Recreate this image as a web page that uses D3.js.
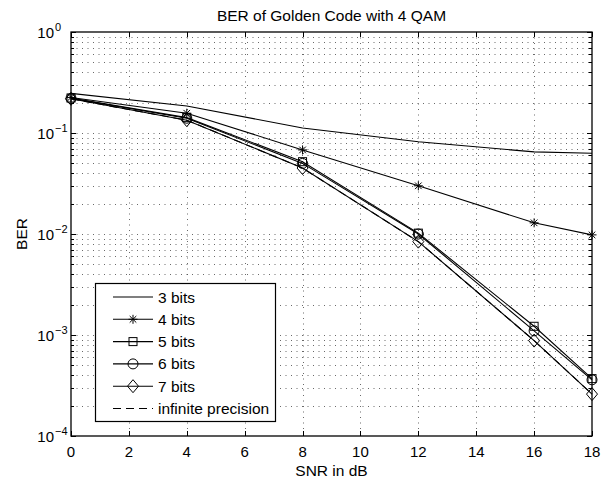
<!DOCTYPE html>
<html>
<head>
<meta charset="utf-8">
<script src="https://cdn.jsdelivr.net/npm/d3@7"></script>
<style>
body { margin: 0; background: #fff; }
text { font-family: "Liberation Sans", Arial, sans-serif; fill: #000; }
</style>
</head>
<body>
<script>
var svgWidth = 612;
var svgHeight = 479;
var plotLeft = 71, plotRight = 592, plotTop = 32, plotBottom = 436;

// data
var snr = [0, 4, 8, 12, 16, 18];
var bits3 = [0.247, 0.185, 0.112, 0.082, 0.065, 0.063];
var bits4 = [0.225, 0.157, 0.068, 0.030, 0.0129, 0.0098];
var bits5 = [0.222, 0.142, 0.052, 0.0102, 0.00122, 0.00037];
var bits6 = [0.220, 0.140, 0.050, 0.0100, 0.00110, 0.00036];
var bits7 = [0.218, 0.134, 0.045, 0.0084, 0.00088, 0.00026];
var infPrec = [0.218, 0.134, 0.045, 0.0084, 0.00088, 0.00026];
var xTicks = [0, 2, 4, 6, 8, 10, 12, 14, 16, 18];
var yTicks = [1e-4, 1e-3, 1e-2, 1e-1, 1];
var yTickExp = ["\u22124", "\u22123", "\u22122", "\u22121", "0"];
var seriesNames = ["3 bits", "4 bits", "5 bits", "6 bits", "7 bits", "infinite precision"];
var seriesData = [bits3, bits4, bits5, bits6, bits7, infPrec];
var markers = ["none", "star", "square", "circle", "diamond", "none"];

var x = d3.scaleLinear().domain([0, 18]).range([plotLeft, plotRight]);
var y = d3.scaleLog().domain([1e-4, 1]).range([plotBottom, plotTop]);

var svg = d3.select("body")
    .append("svg")
    .attr("width", svgWidth)
    .attr("height", svgHeight);

// minor log ticks
var minorY = [];
for (var d = -4; d < 0; d++) {
    for (var m = 1; m < 10; m++) {
        minorY.push(m * Math.pow(10, d));
    }
}
minorY.push(1);

var grid = svg.append("g")
    .attr("stroke", "#444")
    .attr("stroke-width", 0.8)
    .attr("stroke-dasharray", "1,4.5");

grid.selectAll("line.gy")
    .data(minorY.filter(function (v) { return v > 1.01e-4 && v < 0.99; }))
    .enter()
    .append("line")
    .attr("x1", plotLeft).attr("x2", plotRight)
    .attr("y1", function (v) { return Math.round(y(v)) + 0.5; })
    .attr("y2", function (v) { return Math.round(y(v)) + 0.5; });

grid.selectAll("line.gx")
    .data(xTicks.filter(function (v) { return v > 0 && v < 18; }))
    .enter()
    .append("line")
    .attr("y1", plotTop).attr("y2", plotBottom)
    .attr("x1", function (v) { return Math.round(x(v)) + 0.5; })
    .attr("x2", function (v) { return Math.round(x(v)) + 0.5; });

// ticks (inside, MATLAB style)
var ticks = svg.append("g").attr("stroke", "#000").attr("stroke-width", 1);
xTicks.forEach(function (v) {
    var px = Math.round(x(v)) + 0.5;
    ticks.append("line").attr("x1", px).attr("x2", px).attr("y1", plotBottom).attr("y2", plotBottom - 5);
    ticks.append("line").attr("x1", px).attr("x2", px).attr("y1", plotTop).attr("y2", plotTop + 5);
});
minorY.forEach(function (v) {
    var py = Math.round(y(v)) + 0.5;
    var len = (Math.abs(Math.log10(v) - Math.round(Math.log10(v))) < 1e-6) ? 5 : 3;
    ticks.append("line").attr("x1", plotLeft).attr("x2", plotLeft + len).attr("y1", py).attr("y2", py);
    ticks.append("line").attr("x1", plotRight).attr("x2", plotRight - len).attr("y1", py).attr("y2", py);
});

// series lines
var line = d3.line()
    .x(function (d, i) { return x(snr[i]); })
    .y(function (d) { return y(d); });

seriesData.forEach(function (vals, k) {
    svg.append("path")
        .datum(vals)
        .attr("d", line)
        .attr("fill", "none")
        .attr("stroke", "#000")
        .attr("stroke-width", 1.1)
        .attr("stroke-dasharray", k == 5 ? "8,5" : null);
});

var drawMarker = function (g, type, cx, cy) {
    if (type == "star") {
        var s = 4.5, t = 3.3;
        g.append("path")
            .attr("d", "M" + (cx - s) + "," + cy + "H" + (cx + s) + "M" + cx + "," + (cy - s) + "V" + (cy + s) +
                "M" + (cx - t) + "," + (cy - t) + "L" + (cx + t) + "," + (cy + t) +
                "M" + (cx - t) + "," + (cy + t) + "L" + (cx + t) + "," + (cy - t))
            .attr("stroke", "#000").attr("stroke-width", 1).attr("fill", "none");
    } else if (type == "square") {
        g.append("rect").attr("x", cx - 4).attr("y", cy - 4).attr("width", 8).attr("height", 8)
            .attr("stroke", "#000").attr("stroke-width", 1).attr("fill", "none");
    } else if (type == "circle") {
        g.append("circle").attr("cx", cx).attr("cy", cy).attr("r", 5)
            .attr("stroke", "#000").attr("stroke-width", 1).attr("fill", "none");
    } else if (type == "diamond") {
        g.append("path")
            .attr("d", "M" + cx + "," + (cy - 6.5) + "L" + (cx + 5.5) + "," + cy + "L" + cx + "," + (cy + 6.5) + "L" + (cx - 5.5) + "," + cy + "Z")
            .attr("stroke", "#000").attr("stroke-width", 1).attr("fill", "none");
    }
};

var markG = svg.append("g");
seriesData.forEach(function (vals, k) {
    if (markers[k] == "none") return;
    vals.forEach(function (v, i) {
        drawMarker(markG, markers[k], x(snr[i]), y(v));
    });
});

// axes box
svg.append("rect")
    .attr("x", plotLeft).attr("y", plotTop)
    .attr("width", plotRight - plotLeft).attr("height", plotBottom - plotTop)
    .attr("fill", "none").attr("stroke", "#000").attr("stroke-width", 1.3);

// tick labels
svg.selectAll("text.xt")
    .data(xTicks)
    .enter()
    .append("text")
    .text(function (d) { return d; })
    .attr("x", function (d) { return x(d); })
    .attr("y", 457)
    .attr("font-size", "15px")
    .attr("text-anchor", "middle");

yTicks.forEach(function (v, i) {
    svg.append("text")
        .attr("x", 54)
        .attr("y", y(v) + 6)
        .attr("font-size", "15px")
        .attr("text-anchor", "end")
        .text("10");
    svg.append("text")
        .attr("x", 55)
        .attr("y", y(v) - 1.5)
        .attr("font-size", "11px")
        .text(yTickExp[i]);
});

svg.append("text")
    .text("BER of Golden Code with 4 QAM")
    .attr("x", (plotLeft + plotRight) / 2)
    .attr("y", 21)
    .attr("font-size", "15.5px")
    .attr("text-anchor", "middle");

svg.append("text")
    .text("SNR in dB")
    .attr("x", (plotLeft + plotRight) / 2)
    .attr("y", 476)
    .attr("font-size", "15.5px")
    .attr("text-anchor", "middle");

svg.append("text")
    .text("BER")
    .attr("transform", "translate(27," + ((plotTop + plotBottom) / 2) + ") rotate(-90)")
    .attr("font-size", "15.5px")
    .attr("text-anchor", "middle");

// legend
var legend = svg.append("g");
legend.append("rect")
    .attr("x", 95.5).attr("y", 283.5)
    .attr("width", 180).attr("height", 138)
    .attr("fill", "#fff").attr("stroke", "#000").attr("stroke-width", 1.2);

seriesNames.forEach(function (name, k) {
    var ly = 297 + k * 22.3;
    legend.append("line")
        .attr("x1", 113).attr("x2", 153)
        .attr("y1", ly).attr("y2", ly)
        .attr("stroke", "#000").attr("stroke-width", 1.1)
        .attr("stroke-dasharray", k == 5 ? "8,5" : null);
    drawMarker(legend, markers[k], 133, ly);
    legend.append("text")
        .text(name)
        .attr("x", 158)
        .attr("y", ly + 5.5)
        .attr("font-size", "15.5px");
});
</script>
</body>
</html>
